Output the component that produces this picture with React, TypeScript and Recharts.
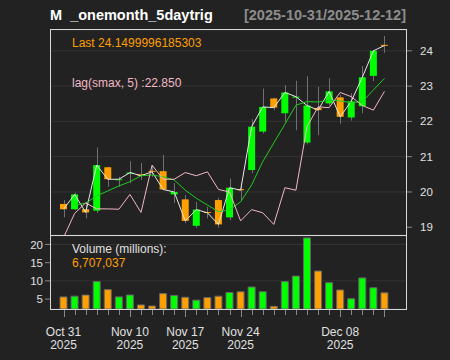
import { ComposedChart, BarChart, Bar, Line, XAxis, YAxis, CartesianGrid, Cell } from 'recharts';

// trading days shown on the chart
const dates = [
  '2025-10-31',
  '2025-11-03', '2025-11-04', '2025-11-05', '2025-11-06', '2025-11-07',
  '2025-11-10', '2025-11-11', '2025-11-12', '2025-11-13', '2025-11-14',
  '2025-11-17', '2025-11-18', '2025-11-19', '2025-11-20', '2025-11-21',
  '2025-11-24', '2025-11-25', '2025-11-26', '2025-11-28',
  '2025-12-01', '2025-12-02', '2025-12-03', '2025-12-04', '2025-12-05',
  '2025-12-08', '2025-12-09', '2025-12-10', '2025-12-11', '2025-12-12',
];

const opens = [
  19.66, 19.51, 19.51, 19.47, 20.7, 20.34, 20.52, 20.5, 20.6, 20.59,
  19.93, 19.79, 19.04, 19.43, 19.77, 19.28, 20.08, 20.62, 21.71, 22.65,
  22.23, 22.68, 21.4, 22.38, 22.51, 22.68, 22.11, 22.43, 23.29, 24.17,
];
const highs = [
  19.77, 19.98, 19.72, 21.26, 20.71, 20.43, 20.87, 20.82, 20.75, 21.05,
  20.25, 19.91, 19.72, 19.58, 19.83, 20.38, 20.26, 22.06, 22.93, 22.67,
  23.03, 23.15, 23.28, 22.98, 23.22, 22.76, 22.8, 23.57, 24.02, 24.42,
];
const lows = [
  19.28, 19.48, 19.25, 19.4, 20.15, 20.15, 20.25, 20.34, 20.43, 20.05,
  19.69, 19.12, 18.98, 19.25, 18.99, 19.2, 19.77, 20.53, 21.66, 22.32,
  21.99, 21.75, 21.35, 21.61, 22.45, 21.93, 22.02, 22.23, 23.14, 23.94,
];
const closes = [
  19.51, 19.93, 19.42, 20.76, 20.36, 20.36, 20.55, 20.46, 20.57, 20.07,
  20.0, 19.18, 19.5, 19.41, 19.08, 20.12, 20.05, 21.85, 22.41, 22.39,
  22.82, 22.7, 22.45, 22.32, 22.85, 22.13, 22.57, 23.25, 24.0, 24.15,
];
// green moving average line
const sma = [
  null, 19.63, 19.68, 19.89, 20.03, 20.17, 20.29, 20.46, 20.48, 20.43,
  20.34, 20.05, 19.82, 19.63, 19.44, 19.49, 19.72, 20.2, 20.86, 21.39,
  21.92, 22.46, 22.56, 22.55, 22.6, 22.58, 22.53, 22.56, 22.89, 23.22,
];
// pink lag(smax, 5) line
const lagSmax = [
  18.71, 19.39, 19.69, 19.52, 19.52, 19.51, 19.93, 19.42, 20.76, 20.36,
  20.36, 20.55, 20.46, 20.57, 20.07, 20.0, 19.18, 19.5, 19.41, 19.08,
  20.12, 20.05, 21.85, 22.41, 22.39, 22.82, 22.7, 22.45, 22.32, 22.85,
];
// volume, millions
const volume = [
  5.6, 5.8, 6.1, 9.8, 7.6, 5.6, 6.1, 3.4, 3.1, 6.5,
  6.0, 5.5, 4.7, 5.4, 5.8, 6.8, 7.0, 8.3, 7.0, 3.0,
  9.8, 11.3, 21.8, 12.7, 9.5, 7.5, 5.1, 10.8, 8.1, 6.71,
];

const tickLabels: Record<string, [string, string]> = {
  '2025-10-31': ['Oct 31', '2025'],
  '2025-11-10': ['Nov 10', '2025'],
  '2025-11-17': ['Nov 17', '2025'],
  '2025-11-24': ['Nov 24', '2025'],
  '2025-12-08': ['Dec 08', '2025'],
};

const priceTicks = [19, 20, 21, 22, 23, 24];
const volumeTicks = [5, 10, 15, 20];

const BG = '#222222';
const GREEN = '#00ff00';
const ORANGE = '#ff9f00';
const FONT = '"Liberation Sans", Arial, sans-serif';

const data = dates.map((date, i) => ({
  i,
  date,
  open: opens[i],
  high: highs[i],
  low: lows[i],
  close: closes[i],
  sma: sma[i],
  lag: lagSmax[i],
  vol: volume[i],
  up: closes[i] >= opens[i],
}));

const Candle = (props: any) => {
  const { x, y, width, height, payload } = props;
  if (x == null || y == null) return null;
  const top = Math.min(y, y + height);
  const bottom = Math.max(y, y + height);
  const span = payload.high - payload.low;
  const toY = (v: number) => top + ((payload.high - v) / span) * (bottom - top);
  const yo = toY(payload.open);
  const yc = toY(payload.close);
  const bodyTop = Math.min(yo, yc);
  const bodyH = Math.max(1, Math.abs(yo - yc));
  const cx = Math.round(x + width / 2) + 0.5;
  return (
    <g>
      <line x1={cx} x2={cx} y1={top} y2={bottom} stroke="#707070" strokeWidth={1} />
      <rect x={x} y={bodyTop} width={width} height={bodyH} fill={payload.up ? GREEN : ORANGE} />
    </g>
  );
};

const DateTick = (props: any) => {
  const { x, y, payload } = props;
  const i = payload.value as number;
  const label = tickLabels[dates[i]];
  const major = label !== undefined || i === dates.length - 1;
  const tx = Math.round(x) + 0.5;
  return (
    <g>
      <line x1={tx} x2={tx} y1={y + 1} y2={y + (major ? 8 : 6)} stroke="#888" />
      {label && (
        <text x={x} y={y + 27} textAnchor="middle" fill="#e0e0e0" fontSize={12} fontFamily={FONT}>
          {label[0]}
        </text>
      )}
      {label && (
        <text x={x} y={y + 40} textAnchor="middle" fill="#e0e0e0" fontSize={12} fontFamily={FONT}>
          {label[1]}
        </text>
      )}
    </g>
  );
};

const abs = (left: number, top: number, extra: any = {}) => ({
  position: 'absolute' as const,
  left,
  top,
  fontFamily: FONT,
  fontSize: 12,
  lineHeight: '14px',
  whiteSpace: 'pre' as const,
  ...extra,
});

export default function App() {
  return (
    <div style={{ position: 'fixed', left: 0, top: 0, width: 450, height: 360, background: BG, overflow: 'hidden' }}>
      {/* volume panel + date axis */}
      <div style={{ position: 'absolute', left: 0, top: 0 }}>
        <BarChart width={450} height={360} data={data} margin={{ top: 236, right: 44, bottom: 0, left: 0 }}>
          <CartesianGrid vertical={false} stroke="#333" />
          <XAxis
            dataKey="i"
            height={51}
            padding={{ left: 7, right: 16 }}
            interval={0}
            tickLine={false}
            axisLine={false}
            tickSize={0}
            tickMargin={0}
            tick={<DateTick />}
          />
          <YAxis
            width={51}
            domain={[2.27, 22.32]}
            ticks={volumeTicks}
            allowDataOverflow
            axisLine={false}
            tickLine={{ stroke: '#888' }}
            tickSize={6}
            tick={{ fill: '#e0e0e0', fontSize: 11.5, fontFamily: FONT }}
          />
          <Bar dataKey="vol" barSize={7} stroke="#666" strokeWidth={1} isAnimationActive={false}>
            {data.map((d) => (
              <Cell key={d.i} fill={d.up ? GREEN : ORANGE} />
            ))}
          </Bar>
        </BarChart>
      </div>

      {/* price panel */}
      <div style={{ position: 'absolute', left: 0, top: 0 }}>
        <ComposedChart width={450} height={235} data={data} margin={{ top: 30, right: 0, bottom: 0, left: 51 }}>
          <CartesianGrid vertical={false} stroke="#333" />
          <XAxis dataKey="i" hide padding={{ left: 7, right: 16 }} />
          <YAxis
            orientation="right"
            width={44}
            domain={[18.78, 24.59]}
            ticks={priceTicks}
            allowDataOverflow
            axisLine={false}
            tickLine={{ stroke: '#888' }}
            tickSize={6}
            tickMargin={8}
            tick={{ fill: '#e0e0e0', fontSize: 11.5, fontFamily: FONT }}
          />
          <Bar dataKey={(d: any) => [d.low, d.high]} shape={<Candle />} barSize={7} isAnimationActive={false} />
          <Line dataKey="close" stroke="#e8e8e8" strokeWidth={1} dot={false} isAnimationActive={false} />
          <Line dataKey="sma" stroke="#1fcc1f" strokeWidth={1} dot={false} isAnimationActive={false} />
          <Line dataKey="lag" stroke="#f2b8c4" strokeWidth={1} dot={false} isAnimationActive={false} />
        </ComposedChart>
      </div>

      {/* panel frames */}
      <svg width={450} height={360} style={{ position: 'absolute', left: 0, top: 0, pointerEvents: 'none' }}>
        <rect x={50.5} y={29.5} width={356} height={280} fill="none" stroke="#d8d8d8" />
        <line x1={50.5} x2={406.5} y1={235.5} y2={235.5} stroke="#d8d8d8" />
      </svg>

      <div style={abs(50, 7, { fontSize: 14.5, lineHeight: '17px', fontWeight: 'bold', color: '#ffffff' })}>
        {'M  _onemonth_5daytrig'}
      </div>
      <div style={abs(0, 7, { left: 'auto', right: 44, fontSize: 14.5, lineHeight: '17px', fontWeight: 'bold', color: '#8c8c8c' })}>
        [2025-10-31/2025-12-12]
      </div>
      <div style={abs(72, 36, { color: ORANGE })}>Last 24.1499996185303</div>
      <div style={abs(72, 76, { color: '#f2b8c4' })}>lag(smax, 5) :22.850</div>
      <div style={abs(72, 242, { color: '#e0e0e0' })}>Volume (millions):</div>
      <div style={abs(72, 256, { color: ORANGE })}>6,707,037</div>
    </div>
  );
}
